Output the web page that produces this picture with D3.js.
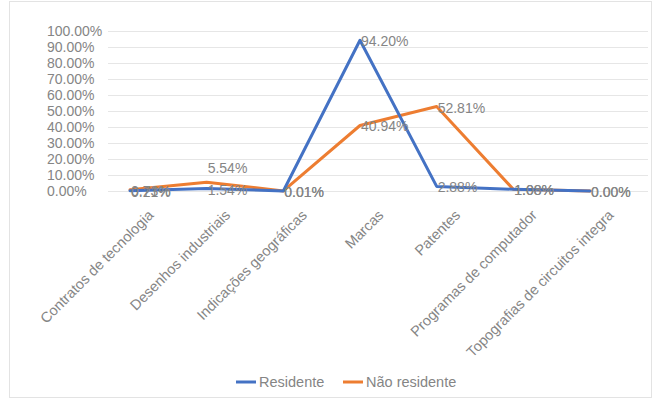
<!DOCTYPE html>
<html>
<head>
<meta charset="utf-8">
<script src="https://cdn.jsdelivr.net/npm/d3@7"></script>
<style>
  html, body { margin: 0; padding: 0; background: #fff; }
  svg text { font-family: "Liberation Sans", Arial, sans-serif; fill: #858585; }
</style>
</head>
<body>
<svg id="chart" width="654" height="401"></svg>
<script>
// Categorias de pedidos de propriedade industrial
const categories = [
  "Contratos de tecnologia",
  "Desenhos industriais",
  "Indicações geográficas",
  "Marcas",
  "Patentes",
  "Programas de computador",
  "Topografias de circuitos integra"
];

// Participação por tipo de depositante (%)
const residente    = [0.21, 1.54, 0.01, 94.20, 2.88, 1.08, 0.00];
const naoResidente = [0.73, 5.54, 0.01, 40.94, 52.81, 1.08, 0.00];

const seriesNames  = ["Residente", "Não residente"];
const seriesColors = ["#4472C4", "#ED7D31"];

const yTicks = d3.range(0, 101, 10);

const svg = d3.select("#chart");

// Chart border
svg.append("rect")
  .attr("x", 9.5).attr("y", 1.5)
  .attr("width", 642).attr("height", 396)
  .attr("fill", "none").attr("stroke", "#e3e3e3");

const plot = { left: 108, right: 648, top: 31, bottom: 191 };

const x = d3.scalePoint().domain(categories).range([130, 590]);
const y = d3.scaleLinear().domain([0, 100]).range([plot.bottom, plot.top]);

const pct = d => d3.format(".2f")(d) + "%";

// Horizontal gridlines
svg.append("g")
  .selectAll("line")
  .data(yTicks)
  .join("line")
  .attr("x1", plot.left).attr("x2", plot.right)
  .attr("y1", d => y(d) + 0.5).attr("y2", d => y(d) + 0.5)
  .attr("stroke", "#e6e6e6").attr("stroke-width", 1);

// Y axis labels (left aligned)
const yAxis = svg.append("g")
  .attr("transform", `translate(${plot.left},0)`)
  .call(d3.axisLeft(y).tickValues(yTicks).tickSize(0).tickFormat(pct));
yAxis.select(".domain").remove();
yAxis.selectAll("text")
  .attr("text-anchor", "start")
  .attr("x", 47 - plot.left)
  .attr("dy", "0.35em")
  .style("font-size", "14px")
  .style("font-family", "'Liberation Sans', Arial, sans-serif")
  .attr("fill", "#858585");

// X axis category labels, rotated
const xAxis = svg.append("g")
  .attr("transform", `translate(0,${plot.bottom})`)
  .call(d3.axisBottom(x).tickSize(0));
xAxis.select(".domain").remove();
xAxis.selectAll(".tick text")
  .attr("text-anchor", "end")
  .attr("dy", 0)
  .attr("y", 0)
  .attr("transform", "translate(24,25) rotate(-45)")
  .style("font-size", "14.5px")
  .style("font-family", "'Liberation Sans', Arial, sans-serif")
  .attr("fill", "#858585");

// Lines
const line = d3.line()
  .x((d, i) => x(categories[i]))
  .y(d => y(d));

const allSeries = [residente, naoResidente];

// Orange first so the blue line sits on top where they meet
[1, 0].forEach(s => {
  svg.append("path")
    .datum(allSeries[s])
    .attr("d", line)
    .attr("fill", "none")
    .attr("stroke", seriesColors[s])
    .attr("stroke-width", 3)
    .attr("stroke-linejoin", "round")
    .attr("stroke-linecap", "round");
});

// Data labels to the right of each point; the non-resident label for
// Desenhos industriais is lifted above its line to clear the resident one.
const labelLift = (s, i) => (s === 1 && i === 1) ? -15 : 0;

allSeries.forEach((vals, s) => {
  svg.append("g")
    .selectAll("text")
    .data(vals)
    .join("text")
    .attr("x", (d, i) => x(categories[i]) + 1)
    .attr("y", (d, i) => y(d) + 6 + labelLift(s, i))
    .attr("text-anchor", "start")
    .style("font-size", "14px")
    .attr("fill", "#858585")
    .text(pct);
});

// Legend
const legend = svg.append("g").attr("transform", "translate(0,382)");
const legendX = [236, 343];
seriesNames.forEach((name, i) => {
  legend.append("line")
    .attr("x1", legendX[i]).attr("x2", legendX[i] + 20)
    .attr("y1", 0).attr("y2", 0)
    .attr("stroke", seriesColors[i]).attr("stroke-width", 3);
  legend.append("text")
    .attr("x", legendX[i] + 23).attr("y", 5)
    .style("font-size", "14.5px")
    .attr("fill", "#858585")
    .text(name);
});
</script>
</body>
</html>
